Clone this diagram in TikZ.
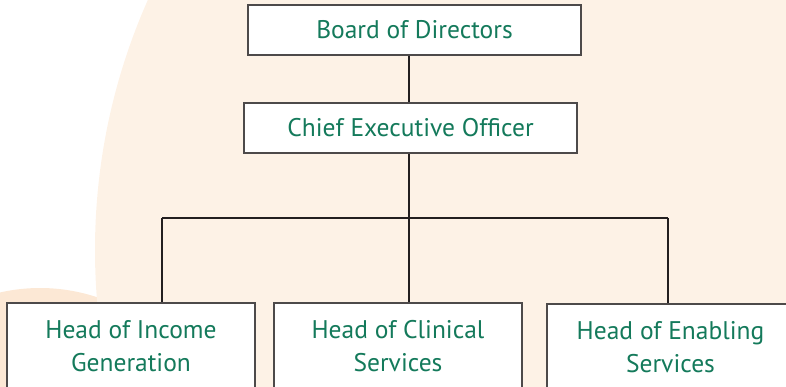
\documentclass[tikz,border=0pt]{standalone}
\usepackage{fontspec}
\setmainfont{PT Sans}
\definecolor{disc}{HTML}{FDF2E6}
\definecolor{patch}{HTML}{FCE8D5}
\definecolor{boxgray}{HTML}{4D4A4A}
\definecolor{linkblack}{HTML}{231F20}
\definecolor{titlegreen}{HTML}{147A5B}
\begin{document}
\begin{tikzpicture}[x=1pt,y=-1pt,
  box/.style={draw=boxgray, line width=1.2pt, fill=white, inner sep=0pt},
  toplbl/.style={text=titlegreen, font=\fontsize{25.5}{33}\selectfont},
  lbl/.style={text=titlegreen, font=\fontsize{25.5}{33}\selectfont, align=center, inner sep=0pt},
  link/.style={draw=linkblack, line width=1.7pt}]
\useasboundingbox (0,0) rectangle (786,387);
\clip (0,0) rectangle (786,387);
% background shapes
\fill[patch] (40,468) circle[radius=180pt];
\fill[disc] (711,250) circle[radius=616pt];
% top of the chart
\node[box, toplbl, minimum width=333pt, minimum height=50pt] (board) at (414.5,30) {Board of Directors};
\node[box, toplbl, minimum width=333pt, minimum height=50pt] (ceo) at (410.5,128) {Chief Executive Officer};
% heads of department
\node[box, minimum width=248pt, minimum height=100pt] (income) at (131,353) {};
\node[box, minimum width=248pt, minimum height=100pt] (clinical) at (398,353) {};
\node[box, minimum width=247pt, minimum height=100pt] (enabling) at (670.5,354) {};
\node[lbl] (incometxt) at (131,346) {Head of Income\\Generation};
\node[lbl] (clinicaltxt) at (398,346) {Head of Clinical\\Services};
\node[lbl] (enablingtxt) at (670.5,347) {Head of Enabling\\Services};
% connectors
\coordinate (trunk) at (409,218);
\coordinate (barl) at (162,218);
\coordinate (barr) at (668,218);
\draw[link] (board.south -| trunk) -- (ceo.north -| trunk);
\draw[link] (ceo.south -| trunk) -- (clinical.north -| trunk);
\draw[link] (barl) -- (barr);
\draw[link] (barl) -- (income.north -| barl);
\draw[link] (barr) -- (enabling.north -| barr);
\end{tikzpicture}
\end{document}
